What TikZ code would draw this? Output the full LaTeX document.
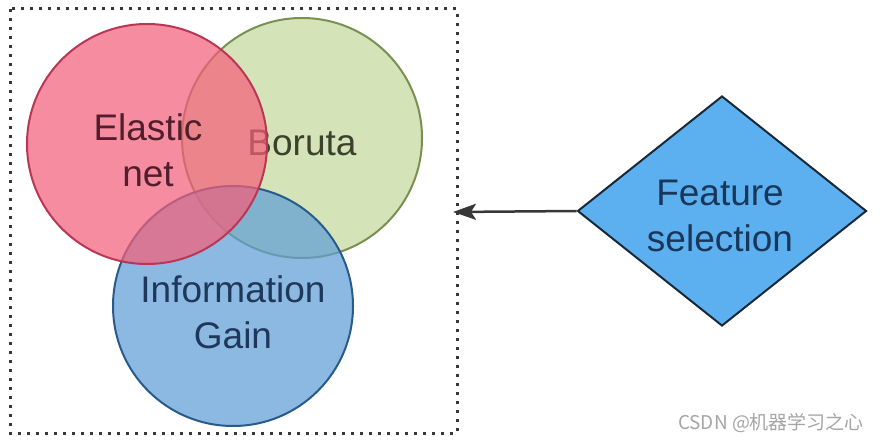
\documentclass[tikz,border=0pt]{standalone}
\usepackage{fontspec}
\setmainfont{Liberation Sans}
\newfontfamily\cjk{Noto Sans CJK SC}
\usetikzlibrary{shapes.geometric,arrows.meta}
\definecolor{redfill}{RGB}{243,95,122}
\definecolor{redline}{RGB}{185,55,85}
\definecolor{greenfill}{RGB}{197,216,158}
\definecolor{greenline}{RGB}{120,145,80}
\definecolor{bluefill}{RGB}{95,158,214}
\definecolor{blueline}{RGB}{40,90,140}
\definecolor{diafill}{RGB}{92,176,240}
\definecolor{boxgray}{RGB}{55,55,55}
\tikzset{
	venn/.style={line width=2pt, fill opacity=0.72},
	label/.style={font=\fontsize{37}{46}\selectfont, align=center, inner sep=0},
}
\begin{document}
\begin{tikzpicture}[x=1pt,y=-1pt]
	\useasboundingbox (0,0) rectangle (882,443);
	\coordinate (R) at (147,144);
	\coordinate (G) at (302,138);
	\coordinate (B) at (233,306);
	\coordinate (P) at (453,212);
	\draw [boxgray, line width=3pt, dash pattern=on 3pt off 6pt] (10,9) rectangle (457,433);
	\draw [venn, greenline, fill=greenfill] (G) circle [radius=120pt];
	\node [label, text={rgb,255:red,60;green,65;blue,45}] (bo) at (302,143) {Boruta};
	\draw [venn, blueline, fill=bluefill] (B) circle [radius=120pt];
	\node [label, text={rgb,255:red,30;green,55;blue,90}] (ig) at (233,312) {Information\\Gain};
	\draw [venn, redline, fill=redfill] (R) circle [radius=120pt];
	\node [label, text={rgb,255:red,80;green,30;blue,45}] (el) at (148,150) {Elastic\\net};
	\node [diamond, draw={rgb,255:red,25;green,40;blue,55}, line width=2pt, fill=diafill, minimum width=289, minimum height=230, aspect=1.26, inner sep=0] (fs) at (722,211) {};
	\node [label, text={rgb,255:red,25;green,55;blue,90}] (ft) at (720,216) {Feature\\selection};
	\draw [-{Stealth[length=23pt,width=16pt,inset=5pt]}, line width=2.5pt, boxgray] (fs.west) -- (P);
	\node [text={rgb,255:red,165;green,165;blue,165}, font=\cjk\fontsize{19}{19}\selectfont] (wm) at (771,423) {CSDN @机器学习之心};
\end{tikzpicture}
\end{document}
